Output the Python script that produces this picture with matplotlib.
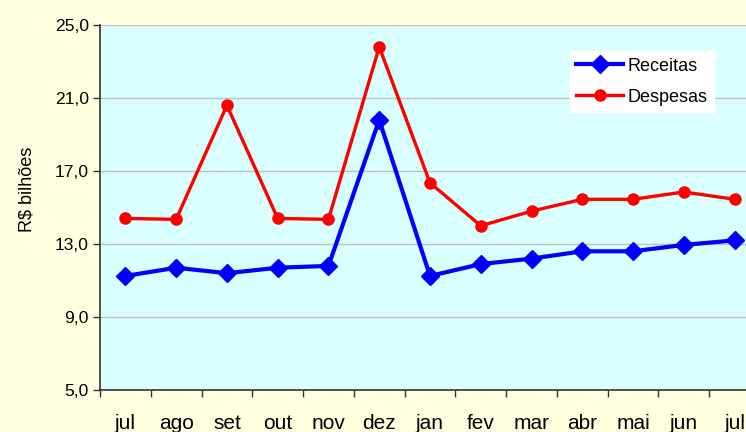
import matplotlib.pyplot as plt
import numpy as np

meses = ['jul', 'ago', 'set', 'out', 'nov', 'dez', 'jan', 'fev', 'mar', 'abr', 'mai', 'jun', 'jul']
receitas = [11.25, 11.7, 11.4, 11.7, 11.8, 19.8, 11.25, 11.9, 12.2, 12.6, 12.6, 12.95, 13.2]
despesas = [14.4, 14.35, 20.6, 14.4, 14.35, 23.8, 16.35, 14.0, 14.8, 15.45, 15.45, 15.85, 15.45]

plt.rcParams['font.family'] = ['Liberation Sans', 'DejaVu Sans']

fig = plt.figure(figsize=(7.46, 4.32), dpi=100)
fig.patch.set_facecolor('#FFFFE0')
ax = fig.add_axes([100 / 746, 42 / 432, 660 / 746, 365 / 432])
ax.set_facecolor('#D9FFFF')

x = np.arange(len(meses))
ax.plot(x, receitas, color='#0000FF', lw=3, marker='D', ms=9, label='Receitas')
ax.plot(x, despesas, color='#FF0000', lw=2.4, marker='o', ms=8, label='Despesas')

ax.set_xlim(-0.5, len(meses) - 0.5)
ax.set_ylim(5, 25)
ax.set_yticks(np.arange(5, 26, 4))
ax.set_yticklabels([f'{v:.1f}'.replace('.', ',') for v in np.arange(5, 26, 4)])
ax.yaxis.grid(True, color='#C0C0C0', lw=1)
ax.set_axisbelow(True)

ax.set_xticks(x)
ax.set_xticklabels(meses)
ax.set_xticks(np.arange(-0.5, len(meses)), minor=True)
ax.tick_params(axis='x', which='major', length=0, pad=17, labelsize=15)
ax.tick_params(axis='x', which='minor', length=5, width=1, direction='out', color='#333333')
ax.tick_params(axis='y', length=5, width=1, color='#333333', labelsize=12.6, pad=3)

for s in ['top', 'right']:
    ax.spines[s].set_visible(False)
ax.spines['left'].set_color('#333333')
ax.spines['bottom'].set_color('#333333')
ax.spines['left'].set_linewidth(1.2)
ax.spines['bottom'].set_linewidth(1.2)

ax.set_ylabel('R$ bilhões', fontsize=13)
ax.yaxis.set_label_coords(-0.097, 0.55)

leg = ax.legend(loc='upper left', bbox_to_anchor=(470 / 660, 0.928), frameon=True,
                fancybox=False, fontsize=13, handlelength=2.6, borderpad=0.35,
                labelspacing=0.77, handletextpad=0.25, borderaxespad=0)
leg.get_frame().set_facecolor('white')
leg.get_frame().set_edgecolor('white')
leg.get_frame().set_alpha(1)

fig.savefig('out.png', dpi=100, facecolor=fig.get_facecolor())
